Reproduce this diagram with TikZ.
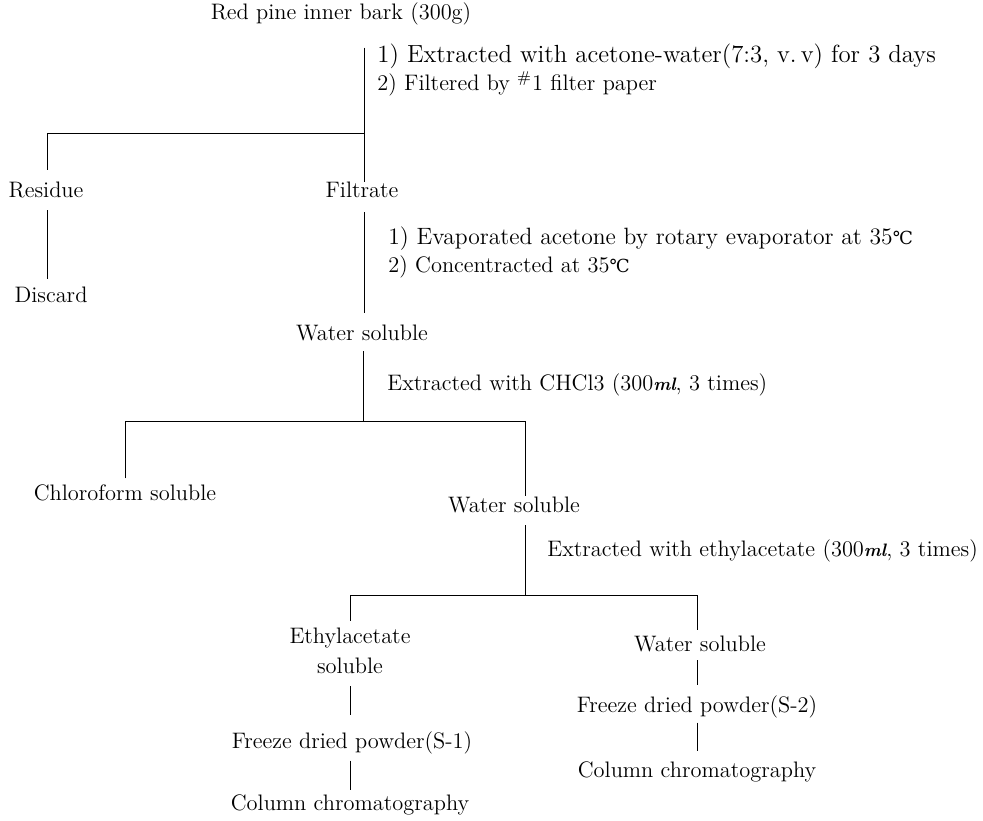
\documentclass[tikz,border=0pt]{standalone}
\usepackage{fontspec}
\newfontfamily\degfont{DejaVu Serif}
\newcommand{\degC}{{\degfont\small ℃}}
\newcommand{\mlunit}{\textit{\textbf{\small ml}}}
\tikzset{
  label text/.style={inner sep=0pt, font=\fontsize{11.2}{14}\selectfont},
  note text/.style={label text, anchor=west, align=left},
  link/.style={line width=0.5pt}
}
\begin{document}
\begin{tikzpicture}[x=0.5pt,y=-0.5pt]
      \useasboundingbox (0,0) rectangle (983,820);
      % products of each step
      \node[label text] (bark) at (341,14) {Red pine inner bark (300g)};
      \node[label text] (residue) at (46,190) {Residue};
      \node[label text] (filtrate) at (362,190) {Filtrate};
      \node[label text] (discard) at (51,295) {Discard};
      \node[label text] (water1) at (362,333) {Water soluble};
      \node[label text] (chloro) at (125,493) {Chloroform soluble};
      \node[label text] (water2) at (514,505) {Water soluble};
      \node[label text, align=center] (ethyl) at (350,651) {Ethylacetate\\[1pt]soluble};
      \node[label text] (water3) at (700,644) {Water soluble};
      \node[label text] (powder1) at (352,743) {Freeze dried powder(S-1)};
      \node[label text] (column1) at (350,805) {Column chromatography};
      \node[label text] (powder2) at (697,707) {Freeze dried powder(S-2)};
      \node[label text] (column2) at (697,772) {Column chromatography};
      % treatments
      \node[note text] (note1) at (377,70) {{\fontsize{12.4}{14}\selectfont 1) Extracted with acetone-water(7:3, v.\,v) for 3 days}\\2) Filtered by \textsuperscript{\#}1 filter paper};
      \node[note text] (note2) at (388,252) {{\fontsize{11.8}{14}\selectfont 1) Evaporated acetone by rotary evaporator at 35\degC}\\2) Concentracted at 35\degC};
      \node[note text] (note3) at (387,385) {Extracted with CHCl3 (300\mlunit, 3 times)};
      \node[note text] (note4) at (547,551) {Extracted with ethylacetate (300\mlunit, 3 times)};
      % split points
      \coordinate (split1) at (364,133);
      \coordinate (left1) at (47,133);
      \coordinate (split2) at (363,421);
      \coordinate (split3) at (525,595);
      \coordinate (right3) at (697,595);
      \begin{scope}[link]
        \draw (split1 |- bark.south) ++(0,22) -- (split1 |- filtrate.north);
        \draw (split1) -| ([yshift=6pt]residue.north -| left1);
        \draw ([yshift=-6pt]residue.south -| left1) -- ([yshift=4pt]discard.north -| left1);
        \draw ([yshift=-7pt]filtrate.south -| split1) -- ([yshift=6pt]water1.north -| split1);
        \draw ([yshift=-5pt]water1.south -| split2) -- (split2);
        \draw (chloro.north) ++(0,-6) |- (split2) -| ([yshift=0.5pt]water2.north -| split3);
        \draw ([yshift=-6pt]water2.south -| split3) -- (split3);
        \draw ([yshift=3.5pt]ethyl.north) |- (split3) -| ([yshift=3pt]water3.north -| right3);
        \draw ([yshift=-6pt]ethyl.south) -- ([yshift=8pt]powder1.north -| ethyl);
        \draw ([yshift=-3pt]powder1.south -| ethyl) -- ([yshift=2pt]column1.north -| ethyl);
        \draw ([yshift=-4pt]water3.south -| right3) -- ([yshift=5pt]powder2.north -| right3);
        \draw ([yshift=-2pt]powder2.south -| right3) -- ([yshift=5pt]column2.north -| right3);
      \end{scope}
    \end{tikzpicture}
\end{document}
